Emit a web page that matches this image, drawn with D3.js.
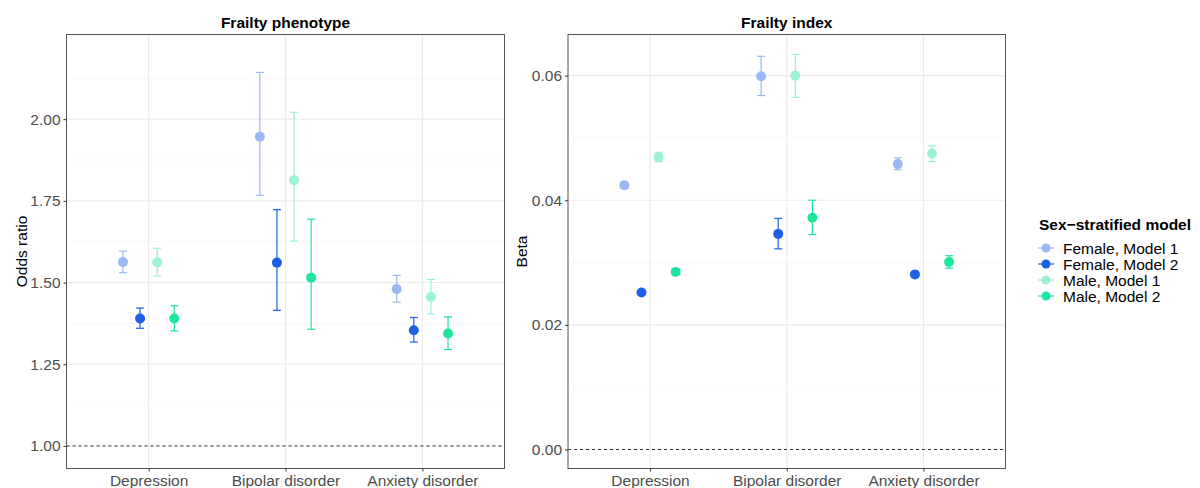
<!DOCTYPE html>
<html>
<head>
<meta charset="utf-8">
<script src="https://cdn.jsdelivr.net/npm/d3@7"></script>
<style>
  html, body { margin: 0; padding: 0; background: #fff; }
  svg { display: block; font-family: "Liberation Sans", Arial, Helvetica, sans-serif; }
</style>
</head>
<body>
<svg id="chart" width="1200" height="488"></svg>
<script>
// Categories and series
const categories = ["Depression", "Bipolar disorder", "Anxiety disorder"];
const seriesNames = ["Female, Model 1", "Female, Model 2", "Male, Model 1", "Male, Model 2"];
const seriesColors = ["#9ab8f2", "#1d60e6", "#9cf2d4", "#1fe59b"];

// Frailty phenotype: odds ratios [estimate, lower, upper] per series, per category
const orFemale1 = [[1.563, 1.530, 1.596], [1.946, 1.767, 2.143], [1.480, 1.440, 1.522]];
const orFemale2 = [[1.390, 1.360, 1.422], [1.561, 1.415, 1.723], [1.354, 1.318, 1.393]];
const orMale1   = [[1.562, 1.520, 1.605], [1.813, 1.627, 2.021], [1.456, 1.404, 1.509]];
const orMale2   = [[1.390, 1.352, 1.429], [1.515, 1.357, 1.694], [1.344, 1.295, 1.395]];

// Frailty index: beta [estimate, lower, upper]
const betaFemale1 = [[0.0424, 0.0419, 0.0429], [0.0599, 0.0568, 0.0631], [0.0458, 0.0449, 0.0468]];
const betaFemale2 = [[0.0252, 0.0249, 0.0255], [0.0346, 0.0322, 0.0371], [0.0281, 0.0277, 0.0285]];
const betaMale1   = [[0.0469, 0.0462, 0.0477], [0.0600, 0.0565, 0.0634], [0.0475, 0.0462, 0.0487]];
const betaMale2   = [[0.0285, 0.0281, 0.0289], [0.0372, 0.0345, 0.0400], [0.0301, 0.0291, 0.0311]];

const orTicks = [1.00, 1.25, 1.50, 1.75, 2.00];
const orMinor = [1.125, 1.375, 1.625, 1.875, 2.125];
const betaTicks = [0.00, 0.02, 0.04, 0.06];
const betaMinor = [0.01, 0.03, 0.05];

const FS = "15.5px";
const svg = d3.select("#chart");

function drawPanel(opts) {
  const { x0, x1, y0, y1, domain, ticks, minor, fmt, ref, title, ytitle, ytitleX, series } = opts;
  const g = svg.append("g");

  const x = d3.scalePoint().domain(categories).range([x0, x1]).padding(0.6);
  const step = x.step();
  const y = d3.scaleLinear().domain(domain).range([y1, y0]);
  const dodge = [-0.1875, -0.0625, 0.0625, 0.1875];

  // background grid
  g.selectAll(".minor").data(minor).join("line")
    .attr("x1", x0).attr("x2", x1)
    .attr("y1", d => y(d)).attr("y2", d => y(d))
    .attr("stroke", "#f2f2f2").attr("stroke-width", 0.6);
  g.selectAll(".major").data(ticks).join("line")
    .attr("x1", x0).attr("x2", x1)
    .attr("y1", d => y(d)).attr("y2", d => y(d))
    .attr("stroke", "#ebebeb").attr("stroke-width", 1.1);
  g.selectAll(".vmajor").data(categories).join("line")
    .attr("x1", d => x(d)).attr("x2", d => x(d))
    .attr("y1", y0).attr("y2", y1)
    .attr("stroke", "#ebebeb").attr("stroke-width", 1.1);

  // reference line
  g.append("line")
    .attr("x1", x0).attr("x2", x1)
    .attr("y1", y(ref)).attr("y2", y(ref))
    .attr("stroke", "#333").attr("stroke-width", 1)
    .attr("stroke-dasharray", "3,3");

  // error bars and points
  series.forEach((vals, si) => {
    const col = seriesColors[si];
    const sg = g.append("g");
    vals.forEach((v, ci) => {
      const cx = x(categories[ci]) + dodge[si] * step;
      const [est, lo, hi] = v;
      const cap = 4;
      sg.append("line").attr("x1", cx).attr("x2", cx)
        .attr("y1", y(lo)).attr("y2", y(hi))
        .attr("stroke", col).attr("stroke-width", 1.2);
      sg.append("line").attr("x1", cx - cap).attr("x2", cx + cap)
        .attr("y1", y(lo)).attr("y2", y(lo))
        .attr("stroke", col).attr("stroke-width", 1.2);
      sg.append("line").attr("x1", cx - cap).attr("x2", cx + cap)
        .attr("y1", y(hi)).attr("y2", y(hi))
        .attr("stroke", col).attr("stroke-width", 1.2);
      sg.append("circle").attr("cx", cx).attr("cy", y(est)).attr("r", 5)
        .attr("fill", col);
    });
  });

  // panel border
  g.append("rect").attr("x", x0).attr("y", y0)
    .attr("width", x1 - x0).attr("height", y1 - y0)
    .attr("fill", "none").attr("stroke", "#555").attr("stroke-width", 1);

  // y axis
  const ya = g.append("g").attr("transform", `translate(${x0},0)`)
    .call(d3.axisLeft(y).tickValues(ticks).tickFormat(fmt).tickSize(3).tickPadding(3));
  ya.select(".domain").remove();
  ya.selectAll(".tick line").attr("stroke", "#333");
  ya.selectAll(".tick text").attr("fill", "#4d4d4d").style("font-size", FS);

  // x axis
  const xa = g.append("g").attr("transform", `translate(0,${y1})`)
    .call(d3.axisBottom(x).tickSize(3).tickPadding(3));
  xa.select(".domain").remove();
  xa.selectAll(".tick line").attr("stroke", "#333");
  xa.selectAll(".tick text").attr("fill", "#4d4d4d").style("font-size", FS);

  // titles
  g.append("text").attr("x", (x0 + x1) / 2).attr("y", 27.5)
    .attr("text-anchor", "middle").attr("font-weight", "bold")
    .style("font-size", FS).attr("fill", "#000").text(title);
  g.append("text")
    .attr("transform", `translate(${ytitleX},${(y0 + y1) / 2}) rotate(-90)`)
    .attr("text-anchor", "middle").style("font-size", FS)
    .attr("fill", "#000").text(ytitle);
}

drawPanel({
  x0: 66.5, x1: 504.5, y0: 34.5, y1: 468.5,
  domain: [0.931, 2.259], ticks: orTicks, minor: orMinor,
  fmt: d3.format(".2f"), ref: 1, title: "Frailty phenotype",
  ytitle: "Odds ratio", ytitleX: 26.5,
  series: [orFemale1, orFemale2, orMale1, orMale2]
});

drawPanel({
  x0: 568, x1: 1005.5, y0: 34.5, y1: 468.5,
  domain: [-0.00305, 0.0666], ticks: betaTicks, minor: betaMinor,
  fmt: d3.format(".2f"), ref: 0, title: "Frailty index",
  ytitle: "Beta", ytitleX: 527,
  series: [betaFemale1, betaFemale2, betaMale1, betaMale2]
});

// legend
const lg = svg.append("g").attr("transform", "translate(1033,0)");
lg.append("text").attr("x", 6).attr("y", 230)
  .attr("font-weight", "bold").style("font-size", FS)
  .attr("fill", "#000").text("Sex\u2212stratified model");
const ly = d3.scalePoint().domain(seriesNames).range([248, 296]);
seriesNames.forEach((name, i) => {
  const cy = ly(name);
  lg.append("line").attr("x1", 5).attr("x2", 21)
    .attr("y1", cy).attr("y2", cy)
    .attr("stroke", seriesColors[i]).attr("stroke-width", 1.2);
  lg.append("circle").attr("cx", 13).attr("cy", cy).attr("r", 4.5)
    .attr("fill", seriesColors[i]);
  lg.append("text").attr("x", 30).attr("y", cy + 5.5)
    .style("font-size", FS).attr("fill", "#000").text(name);
});
</script>
</body>
</html>
